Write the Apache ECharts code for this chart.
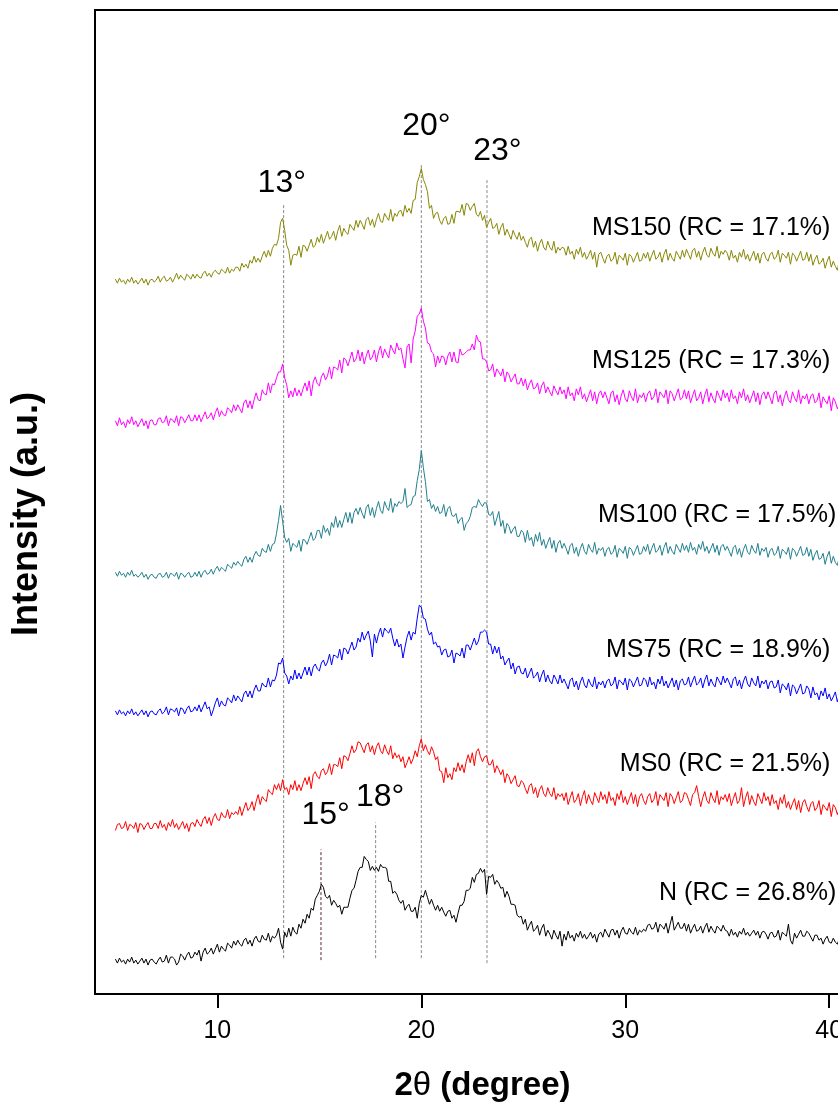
<!DOCTYPE html>
<html>
<head>
<meta charset="utf-8">
<script src="https://cdn.jsdelivr.net/npm/echarts@6/dist/echarts.min.js"></script>
<style>
  html, body { margin: 0; padding: 0; overflow: hidden; background: #fff; }
  #chart { width: 900px; height: 1107px; }
</style>
</head>
<body>
<div id="chart"></div>
<script>
// 2θ sampling: 5.0 .. 41.0 deg, step 0.1 (one row below = 2 degrees)
const angleStart = 5;
const angleStep = 0.1;
const xTicks = [10, 20, 30, 40];

// intensities (a.u.), curves already stacked with their offsets
const ms150 = [
  717,713,718,714,716,712,717,714,719,713,716,712,715,718,713,717,711,716,717,714,
  716,720,714,718,720,715,716,719,714,718,723,717,721,718,716,722,720,717,722,718,
  722,719,718,723,725,720,723,719,724,726,723,722,727,725,723,729,723,727,725,729,
  729,725,733,729,732,728,736,733,740,734,738,734,740,745,739,746,740,748,752,751,
  758,774,778,766,751,746,731,741,742,741,750,739,751,750,745,751,757,749,751,759,
  754,762,753,759,765,757,760,765,756,765,771,760,768,764,762,772,769,766,776,769,
  776,772,767,777,779,771,777,769,777,783,775,774,783,779,776,787,775,783,780,785,
  786,780,791,784,788,783,796,797,814,820,828,817,812,805,788,791,778,783,784,776,
  772,778,780,772,773,782,773,785,785,784,792,781,793,792,786,790,793,782,780,785,
  776,781,769,774,778,768,769,773,762,769,773,761,767,762,757,766,761,757,764,756,
  760,754,749,757,759,749,755,745,753,757,749,746,755,749,746,755,743,749,746,749,
  748,741,750,742,745,737,747,742,749,739,744,737,741,746,737,744,729,742,744,738,
  733,740,742,735,737,744,732,741,739,736,743,731,742,740,734,739,744,735,736,743,
  738,744,735,741,746,737,739,744,734,742,747,736,743,738,735,745,741,737,746,739,
  747,742,737,746,748,739,745,736,744,749,741,739,748,743,740,750,738,745,742,746,
  743,736,746,738,741,734,744,739,747,737,742,735,740,745,736,743,733,742,744,738,
  735,742,744,737,739,746,734,743,741,738,744,732,743,741,735,740,745,736,737,744,
  735,742,731,737,741,732,734,738,728,735,740,729,735,730,726,736,732,727,736,729,
  729
];
const ms125 = [
  575,570,578,571,574,568,576,572,579,571,575,569,573,577,570,575,567,575,576,571,
  571,577,578,573,574,580,570,577,576,573,580,570,579,578,573,577,581,575,575,581,
  575,581,574,579,584,577,579,583,576,583,588,579,585,581,580,588,586,583,591,585,
  591,587,583,593,596,588,595,587,596,603,596,595,606,602,601,613,603,612,611,618,
  624,624,632,618,611,598,605,599,608,600,606,600,607,613,605,615,600,614,619,612,
  610,619,623,616,620,629,617,629,628,626,636,623,638,636,630,637,644,634,637,646,
  635,644,632,640,646,636,639,646,634,644,650,638,647,642,638,651,646,642,653,646,
  648,637,628,649,652,633,657,665,680,682,688,675,668,653,652,644,642,629,640,633,
  640,639,631,640,644,634,644,634,633,647,641,642,644,646,646,652,646,661,655,654,
  637,637,634,625,626,632,619,627,624,620,627,614,624,621,614,618,622,612,612,618,
  610,617,606,612,616,607,608,613,602,610,614,603,609,604,600,610,605,601,609,602,
  606,597,609,600,603,595,607,601,609,597,602,594,600,606,595,604,592,602,605,598,
  604,598,592,603,605,594,601,591,600,606,597,594,605,599,595,607,593,601,598,603,
  594,602,605,596,599,607,593,604,601,598,606,592,605,602,595,601,607,596,598,606,
  597,605,593,600,606,595,598,604,592,601,607,594,603,597,593,605,600,595,606,598,
  603,594,606,597,600,592,604,598,607,595,601,593,599,605,594,603,591,601,604,597,
  604,598,592,603,605,594,601,590,599,605,596,593,604,598,594,606,592,600,597,602,
  592,600,602,593,595,603,588,599,595,592,600,585,598,594,587,592,598,587,588,596,
  588
];
const ms100 = [
  423,419,424,420,422,418,423,420,425,419,421,418,420,423,418,421,416,420,421,418,
  417,421,422,418,419,423,417,422,421,419,423,416,422,421,418,421,423,418,419,423,
  419,424,418,423,425,421,422,426,421,426,429,424,428,426,424,431,429,427,433,430,
  434,431,429,436,439,433,438,433,440,444,440,439,447,444,443,451,444,451,452,462,
  475,490,474,458,453,457,444,452,450,448,455,444,456,455,451,457,463,455,457,465,
  465,457,470,463,467,460,473,468,479,468,475,468,476,483,473,483,472,483,487,481,
  488,482,477,488,491,480,488,478,487,494,485,482,494,488,485,497,483,492,489,494,
  492,494,507,488,490,491,499,500,515,526,545,528,514,494,496,487,491,484,489,482,
  483,491,479,487,489,480,479,482,472,476,478,465,472,474,479,488,489,488,496,492,
  489,493,492,481,480,484,470,477,484,469,475,462,472,469,462,466,469,459,459,465,
  463,453,465,455,458,449,461,454,463,450,456,447,453,458,447,455,443,452,455,447,
  452,447,441,450,452,442,448,439,447,452,444,441,451,446,443,453,441,447,445,448,
  439,446,448,441,443,450,438,447,445,442,449,437,448,446,440,445,450,441,442,449,
  444,451,441,447,452,443,445,450,440,448,453,442,449,444,441,451,447,443,452,445,
  450,443,453,445,448,441,451,446,454,444,449,442,447,452,443,450,440,449,451,445,
  449,444,439,448,450,441,447,438,446,451,443,441,450,445,442,452,440,447,444,448,
  438,445,447,440,442,449,437,446,444,441,448,436,447,445,439,444,449,440,441,448,
  439,446,435,441,445,436,437,442,431,439,444,432,439,433,430,439,435,431,439,432,
  431
];
const ms75 = [
  284,280,285,281,283,279,284,281,286,280,283,279,282,285,280,284,278,283,284,281,
  280,284,286,281,283,288,280,286,285,283,287,279,287,286,281,286,289,283,284,288,
  284,290,283,288,293,286,288,279,285,292,297,288,294,290,289,297,295,292,300,294,
  299,296,293,301,304,298,304,297,305,310,304,304,312,309,308,317,308,315,314,320,
  332,331,337,322,319,311,319,315,325,316,322,316,322,328,320,328,319,328,331,326,
  324,332,335,329,333,341,330,340,339,337,346,335,347,346,341,347,353,345,348,357,
  353,363,355,360,364,354,338,361,352,361,367,358,367,364,362,367,357,349,356,348,
  351,337,348,358,364,355,363,361,377,390,388,377,376,366,360,363,351,353,348,349,
  340,345,346,338,339,345,332,342,341,339,347,337,350,350,345,351,357,350,354,363,
  363,365,363,351,351,341,349,342,348,336,339,330,334,337,326,332,321,328,329,322,
  321,327,317,322,327,317,319,323,313,320,325,313,320,314,311,320,316,311,320,312,
  316,311,306,315,317,308,314,305,313,318,310,307,316,311,308,318,306,313,310,314,
  307,314,316,309,311,318,306,315,313,310,317,305,316,314,308,313,318,309,310,317,
  315,308,318,310,313,306,316,311,319,309,314,307,312,317,308,315,305,314,316,310,
  311,318,308,314,319,310,312,317,307,315,320,309,316,311,308,318,314,310,319,312,
  317,312,307,316,318,309,315,306,314,319,311,308,317,312,309,319,307,314,311,315,
  306,313,314,307,308,315,302,311,309,305,312,299,310,308,301,306,311,301,302,309,
  306,297,308,300,302,295,304,299,307,296,301,294,298,303,293,300,290,298,300,294,
  295
];
const ms0 = [
  164,170,171,166,167,173,164,170,169,166,172,162,171,170,165,169,172,166,166,171,
  171,166,174,167,170,164,172,168,175,167,171,165,169,173,166,171,163,171,172,168,
  175,171,168,175,178,171,177,169,177,181,175,174,182,178,177,185,176,182,180,183,
  180,188,179,186,192,184,187,193,184,193,200,190,198,195,193,205,202,200,210,205,
  211,204,215,205,207,200,210,205,214,204,210,204,211,217,210,218,206,220,223,218,
  216,224,226,220,223,231,220,230,230,228,237,226,239,238,234,241,249,242,245,253,
  252,247,242,250,252,243,249,240,248,252,244,241,250,244,240,249,236,242,237,240,
  233,238,227,232,238,231,236,244,238,249,256,244,250,244,240,248,243,235,238,224,
  223,212,227,217,221,215,227,223,232,224,230,222,233,240,232,242,229,243,246,238,
  233,238,239,230,230,235,222,229,225,220,225,212,221,218,211,215,219,209,208,214,
  212,206,201,209,211,201,207,197,205,209,201,198,207,201,198,207,195,201,198,201,
  194,202,190,197,203,192,195,201,189,198,204,191,200,194,190,202,197,192,203,195,
  200,191,203,194,197,189,201,195,204,192,198,190,196,202,191,200,188,198,201,194,
  190,198,201,192,195,203,189,200,197,194,202,188,201,198,191,197,203,192,194,202,
  201,195,189,200,202,209,198,188,197,203,194,191,202,196,192,204,190,198,195,200,
  193,201,189,196,202,191,194,207,188,197,203,190,199,193,189,201,196,191,202,194,
  198,189,200,191,194,185,197,191,200,187,193,185,191,196,185,194,182,192,195,188,
  183,191,193,184,187,194,180,190,187,184,192,178,190,187,180,186,191,180,182,190,
  183
];
const native = [
  35,31,36,32,34,30,35,32,37,31,34,30,33,36,31,35,29,34,35,32,
  30,34,37,32,33,39,31,37,37,35,29,32,40,38,34,39,42,36,37,42,
  39,44,33,42,46,40,42,46,40,45,50,42,48,45,43,51,49,46,53,49,
  54,50,48,54,56,50,54,48,55,58,53,52,59,55,54,61,52,58,56,59,
  66,52,45,62,57,66,58,67,62,60,70,66,75,71,80,76,86,84,95,99,
  103,110,107,98,96,99,89,94,91,87,89,80,87,87,87,96,104,106,114,123,
  127,127,138,135,133,124,128,124,127,123,130,127,127,126,113,113,101,103,100,94,
  91,94,84,88,90,83,83,87,76,91,99,97,104,97,90,95,89,84,89,83,
  87,82,78,83,84,76,79,72,81,89,89,93,104,104,106,117,112,120,121,126,
  122,125,100,118,117,120,110,114,111,106,107,97,103,98,90,90,89,79,77,78,
  70,75,64,69,73,63,65,69,59,66,70,58,64,60,55,64,59,55,63,48,
  60,54,63,56,59,53,61,57,63,56,60,55,58,62,56,60,52,60,62,57,
  65,61,57,64,65,59,64,56,63,67,61,60,66,62,60,67,59,64,62,65,
  63,69,70,65,66,72,62,70,68,65,71,61,70,78,64,68,72,66,66,71,
  63,70,61,66,70,63,64,68,61,67,71,62,68,64,61,68,66,63,69,64,
  63,58,65,59,62,57,63,60,66,59,62,58,61,64,59,63,56,62,63,60,
  55,61,62,57,58,64,54,62,60,58,70,54,50,61,56,60,64,58,58,63,
  61,57,53,59,59,54,56,50,55,58,52,51,56,52,50,56,48,52,49,52,
  49
];

const sampleNames = ['MS150 (RC = 17.1%)', 'MS125 (RC = 17.3%)', 'MS100 (RC = 17.5%)',
  'MS75 (RC = 18.9%)', 'MS0 (RC = 21.5%)', 'N (RC = 26.8%)'];
const sampleColors = ['#878705', '#ff00ff', '#21808e', '#0000ff', '#ff0000', '#000000'];
const sampleData = [ms150, ms125, ms100, ms75, ms0, native];
// right end of each sample name
const nameAngle = [40.08, 40.08, 40.37, 40.08, 40.08, 40.37];
const nameLevel = [768, 635, 480, 345, 231, 101];

// dotted peak guides
const peakAngle = [13.25, 15.08, 17.76, 20.0, 23.22];
const peakTop = [792, 145, 172, 832, 818];
const peakBottom = [36, 34, 36, 36, 31];
const peakColor = ['#888', '#5a2430', '#888', '#888', '#888'];
const peakText = ['13°', '15°', '18°', '20°', '23°'];
const peakTextAngle = [13.16, 15.31, 17.98, 20.25, 23.73];
const peakTextLevel = [813, 179, 197, 870, 845];

const FONT = 'Liberation Sans, Arial, sans-serif';

const chart = echarts.init(document.getElementById('chart'));

const series = [];
peakAngle.forEach((a, i) => {
  series.push({
    type: 'line',
    silent: true,
    symbol: 'none',
    z: 1,
    lineStyle: { color: peakColor[i], width: 1, type: [3, 2] },
    data: [[a, peakBottom[i]], [a, peakTop[i]]]
  });
});
sampleData.forEach((vals, k) => {
  series.push({
    name: sampleNames[k],
    type: 'line',
    symbol: 'none',
    z: 3,
    lineStyle: { color: sampleColors[k], width: 1 },
    data: vals.map((v, i) => [+(angleStart + i * angleStep).toFixed(1), v])
  });
});
series.push({
  type: 'scatter',
  silent: true,
  symbolSize: 1,
  itemStyle: { color: 'transparent', opacity: 1 },
  label: {
    show: true, position: 'left', distance: 0,
    fontFamily: FONT, fontSize: 25, color: '#000',
    formatter: p => sampleNames[p.dataIndex]
  },
  data: nameAngle.map((a, i) => [a, nameLevel[i]])
});
series.push({
  type: 'scatter',
  silent: true,
  symbolSize: 1,
  itemStyle: { color: 'transparent', opacity: 1 },
  label: {
    show: true, position: 'inside',
    fontFamily: FONT, fontSize: 32, color: '#000',
    formatter: p => peakText[p.dataIndex]
  },
  data: peakTextAngle.map((a, i) => [a, peakTextLevel[i]])
});

chart.setOption({
  animation: false,
  backgroundColor: '#fff',
  grid: {
    left: 95, top: 10, right: 30, bottom: 110,
    show: true, borderColor: '#000', borderWidth: 2
  },
  xAxis: {
    type: 'value',
    min: 4,
    max: 42,
    name: '{b|2}{t|θ}{b| (degree)}',
    nameLocation: 'middle',
    nameGap: 75,
    nameTextStyle: {
      rich: {
        b: { fontFamily: FONT, fontSize: 33, fontWeight: 'bold', color: '#000' },
        t: { fontFamily: FONT, fontSize: 33, color: '#000' }
      }
    },
    splitLine: { show: false },
    axisLine: { show: true, lineStyle: { color: '#000', width: 2 } },
    axisTick: { show: true, customValues: xTicks, length: 14, lineStyle: { color: '#000', width: 2 } },
    axisLabel: { customValues: xTicks, fontFamily: FONT, fontSize: 25, color: '#000', margin: 25 }
  },
  yAxis: {
    type: 'value',
    min: 0,
    max: 987,
    name: 'Intensity (a.u.)',
    nameLocation: 'middle',
    nameGap: 50,
    nameTextStyle: {
      fontFamily: FONT, fontSize: 36, fontWeight: 'bold', color: '#000',
      padding: [0, 24, 0, 0]
    },
    splitLine: { show: false },
    axisLine: { show: false },
    axisTick: { show: false },
    axisLabel: { show: false }
  },
  series: series
});
</script>
</body>
</html>
